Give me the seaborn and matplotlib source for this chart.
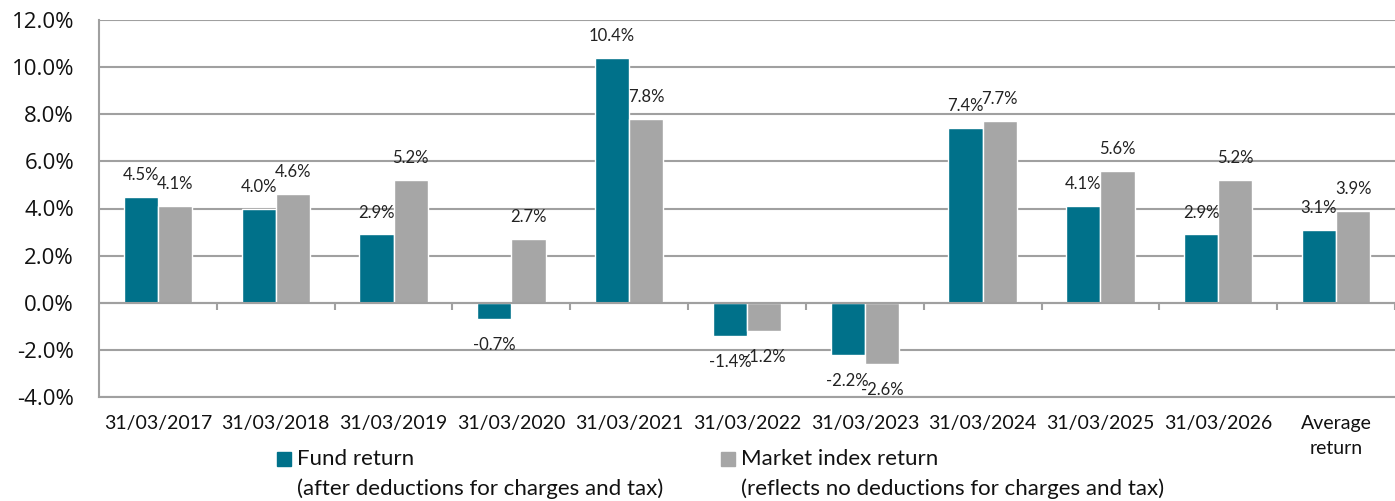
import numpy as np
import pandas as pd
import seaborn as sns
import matplotlib.pyplot as plt
from matplotlib.patches import Rectangle
from matplotlib.ticker import FuncFormatter

# data
periods = ["31/03/2017", "31/03/2018", "31/03/2019", "31/03/2020", "31/03/2021",
           "31/03/2022", "31/03/2023", "31/03/2024", "31/03/2025", "31/03/2026",
           "Average\nreturn"]
fund_return = [4.5, 4.0, 2.9, -0.7, 10.4, -1.4, -2.2, 7.4, 4.1, 2.9, 3.1]
market_return = [4.1, 4.6, 5.2, 2.7, 7.8, -1.2, -2.6, 7.7, 5.6, 5.2, 3.9]
series_names = ["Fund return", "Market index return"]
series_notes = ["(after deductions for charges and tax)",
                "(reflects no deductions for charges and tax)"]

teal = "#00718A"
grey = "#A6A6A6"
line_col = "#A0A0A0"

df = pd.DataFrame({
    "period": periods * 2,
    "value": fund_return + market_return,
    "series": [series_names[0]] * len(periods) + [series_names[1]] * len(periods),
})

sns.set_style("white")
plt.rcParams['font.family'] = ['Lato', 'DejaVu Sans']

fig = plt.figure(figsize=(13.95, 5.01), dpi=100)
ax = fig.add_axes([99 / 1395, 1 - 397 / 501, 1 - 99 / 1395, (397 - 20) / 501])

sns.barplot(data=df, x="period", y="value", hue="series", palette=[teal, grey],
            width=0.58, gap=0, saturation=1, errorbar=None, legend=False, ax=ax)

# value labels: above positive bars, below negative ones
for cont, vals in zip(ax.containers, [fund_return, market_return]):
    for bar, v in zip(cont.patches, vals):
        x = bar.get_x() + bar.get_width() / 2
        if v >= 0:
            ax.annotate(f"{v:.1f}%", (x, v), xytext=(0, 10), textcoords="offset points",
                        ha="center", va="bottom", fontsize=12, color="#222222")
        else:
            ax.annotate(f"{v:.1f}%", (x, v), xytext=(0, -13), textcoords="offset points",
                        ha="center", va="top", fontsize=12, color="#222222")

ax.set_ylim(-4, 12)
ax.set_xlim(-0.5, len(periods) - 0.5)
ax.set_yticks(np.arange(-4, 13, 2))
ax.yaxis.set_major_formatter(FuncFormatter(lambda v, p: f"{v:.1f}%"))
ax.yaxis.grid(True, color=line_col, lw=1.5)
ax.set_axisbelow(True)
ax.set_xlabel("")
ax.set_ylabel("")

for s in ["top", "right"]:
    ax.spines[s].set_visible(False)
for s in ["left", "bottom"]:
    ax.spines[s].set_color(line_col)
    ax.spines[s].set_linewidth(1.5)

ax.tick_params(axis="y", length=6, width=1.5, color=line_col, labelsize=16,
               labelcolor="#111111", pad=12)
ax.tick_params(axis="x", length=0, labelsize=14, labelcolor="#111111", pad=13)
for lab in ax.get_yticklabels():
    lab.set_fontfamily(['Open Sans', 'DejaVu Sans'])
for lab in ax.get_xticklabels():
    lab.set_linespacing(1.55)

# zero line with category separators
ax.axhline(0, color=line_col, lw=1.5, zorder=1)
ax.vlines(np.arange(1, len(periods) + 1) - 0.5, -0.3, 0, color=line_col, lw=1.5)

# legend drawn by hand (two-line entries)
for i, (name, note) in enumerate(zip(series_names, series_notes)):
    x0 = [277, 721][i] / 1395
    fig.patches.append(Rectangle((x0, 1 - 466 / 501), 14 / 1395, 14 / 501,
                                 transform=fig.transFigure,
                                 color=[teal, grey][i]))
    fig.text(x0 + 20 / 1395, 1 - 459 / 501, name, va="center", fontsize=16,
             color="#111111")
    fig.text(x0 + 20 / 1395, 1 - 489 / 501, note, va="center", fontsize=16,
             color="#111111")

fig.savefig("out.png", dpi=100)
